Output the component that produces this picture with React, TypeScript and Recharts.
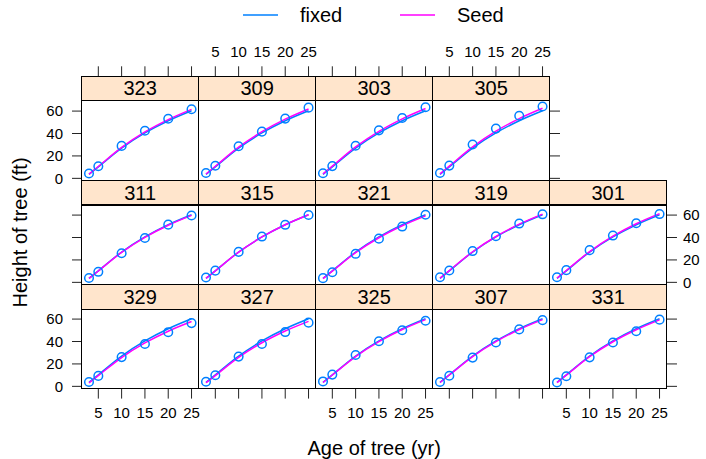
import React from "react";
import { LineChart, Line, XAxis, YAxis } from "recharts";

// ages at which every tree was measured
const ages = [3, 5, 10, 15, 20, 25];
const xTicks = [5, 10, 15, 20, 25];
const yTicks = [0, 20, 40, 60];

// population (fixed effects) curve, same in every panel
const fixedFit = [3.6, 10.3, 27.0, 40.5, 51.4, 60.3];

// observed heights per seed
const height301 = [4.51, 10.89, 28.72, 41.74, 52.7, 60.92];
const height303 = [4.55, 10.92, 29.07, 42.83, 53.88, 63.39];
const height305 = [4.79, 11.37, 30.21, 44.4, 55.82, 64.1];
const height307 = [3.91, 9.48, 25.66, 39.07, 50.78, 59.07];
const height309 = [4.81, 11.2, 28.66, 41.66, 53.31, 63.05];
const height311 = [3.88, 9.4, 25.99, 39.55, 51.46, 59.64];
const height315 = [4.32, 10.43, 27.16, 40.85, 51.33, 60.07];
const height319 = [4.57, 10.57, 27.9, 41.13, 52.43, 60.69];
const height321 = [3.77, 9.03, 25.45, 38.98, 49.76, 60.28];
const height323 = [4.33, 10.79, 28.97, 42.44, 53.17, 61.62];
const height325 = [4.38, 10.48, 27.93, 40.2, 50.06, 58.49];
const height327 = [4.12, 9.92, 26.54, 37.82, 48.43, 56.81];
const height329 = [3.93, 9.34, 26.08, 37.79, 48.31, 56.43];
const height331 = [3.46, 9.05, 25.85, 39.15, 49.12, 59.49];

// seed-level fitted curves
const seedFit301 = [3.8, 10.6, 27.5, 41.2, 52.3, 61.3];
const seedFit303 = [4.0, 10.9, 28.0, 41.9, 53.1, 62.3];
const seedFit305 = [4.0, 10.9, 28.1, 42.1, 53.3, 62.5];
const seedFit307 = [3.45, 10.1, 26.6, 39.9, 50.7, 59.5];
const seedFit309 = [3.9, 10.8, 27.8, 41.6, 52.8, 61.9];
const seedFit311 = [3.5, 10.1, 26.7, 40.1, 50.9, 59.7];
const seedFit315 = [3.6, 10.3, 27.0, 40.5, 51.4, 60.3];
const seedFit319 = [3.7, 10.5, 27.3, 40.9, 51.9, 60.9];
const seedFit321 = [3.4, 10.0, 26.5, 39.8, 50.5, 59.3];
const seedFit323 = [3.8, 10.6, 27.6, 41.4, 52.4, 61.5];
const seedFit325 = [3.45, 10.1, 26.6, 39.9, 50.7, 59.5];
const seedFit327 = [3.2, 9.6, 25.8, 38.9, 49.4, 58.0];
const seedFit329 = [3.15, 9.6, 25.7, 38.7, 49.2, 57.8];
const seedFit331 = [3.4, 10.0, 26.5, 39.8, 50.5, 59.3];

const panels = [
  { name: "323", obs: height323, fit: seedFit323, col: 0, row: 0 },
  { name: "309", obs: height309, fit: seedFit309, col: 1, row: 0 },
  { name: "303", obs: height303, fit: seedFit303, col: 2, row: 0 },
  { name: "305", obs: height305, fit: seedFit305, col: 3, row: 0 },
  { name: "311", obs: height311, fit: seedFit311, col: 0, row: 1 },
  { name: "315", obs: height315, fit: seedFit315, col: 1, row: 1 },
  { name: "321", obs: height321, fit: seedFit321, col: 2, row: 1 },
  { name: "319", obs: height319, fit: seedFit319, col: 3, row: 1 },
  { name: "301", obs: height301, fit: seedFit301, col: 4, row: 1 },
  { name: "329", obs: height329, fit: seedFit329, col: 0, row: 2 },
  { name: "327", obs: height327, fit: seedFit327, col: 1, row: 2 },
  { name: "325", obs: height325, fit: seedFit325, col: 2, row: 2 },
  { name: "307", obs: height307, fit: seedFit307, col: 3, row: 2 },
  { name: "331", obs: height331, fit: seedFit331, col: 4, row: 2 },
];

const BLUE = "#0080ff";
const MAGENTA = "#ff00ff";
const FONT = "'Liberation Sans', Arial, Helvetica, sans-serif";

const PANEL_W = 117;
const PANEL_H = 79.6;
const STRIP_H = 24.7;
const LEFT0 = 81.7;
const TOP0 = 76;
const ROW_PITCH = 104.3;
const PAD = { top: 60, right: 45, bottom: 40, left: 45 };

type PanelProps = { name: string; obs: number[]; fit: number[]; col: number; row: number };

const PanelChart = ({ obs, fit, col, row }: PanelProps) => {
  const x = LEFT0 + col * PANEL_W;
  const y = TOP0 + row * ROW_PITCH + STRIP_H;
  const data = ages.map((a, i) => ({ age: a, obs: obs[i], fixed: fixedFit[i], seed: fit[i] }));

  const topAxis = row === 0;
  const bottomAxis = row === 2;
  const showX = topAxis ? col % 2 === 1 : col % 2 === 0;
  const leftAxis = col === 0;
  const rightAxis = (row === 0 && col === 3) || col === 4;
  const showY = leftAxis ? row !== 1 : row === 1;

  // axes take 1px of room each, so take it back from the margin
  const margin = {
    top: PAD.top - (topAxis ? 1 : 0),
    bottom: PAD.bottom - (bottomAxis ? 1 : 0),
    left: PAD.left - (leftAxis ? 1 : 0),
    right: PAD.right - (rightAxis ? 1 : 0),
  };

  return (
    <div style={{ position: "absolute", left: x - PAD.left, top: y - PAD.top }}>
      <LineChart
        width={PANEL_W + PAD.left + PAD.right}
        height={PANEL_H + PAD.top + PAD.bottom}
        margin={margin}
        data={data}
      >
        <XAxis
          dataKey="age"
          type="number"
          domain={[1.5, 26.6]}
          allowDataOverflow
          ticks={xTicks}
          interval={0}
          orientation={topAxis ? "top" : "bottom"}
          hide={!topAxis && !bottomAxis}
          height={1}
          axisLine={false}
          tickSize={topAxis ? STRIP_H + 10 : 10}
          tickMargin={9}
          tickLine={{ stroke: "#222" }}
          tick={{ fontSize: 15, fill: "#000", fontFamily: FONT }}
          tickFormatter={(v) => (showX ? String(v) : "")}
        />
        <YAxis
          type="number"
          domain={[-2, 69]}
          allowDataOverflow
          ticks={yTicks}
          interval={0}
          orientation={leftAxis ? "left" : "right"}
          hide={!leftAxis && !rightAxis}
          width={1}
          axisLine={false}
          tickSize={10}
          tickMargin={leftAxis ? 9 : 6}
          tickLine={{ stroke: "#222" }}
          tick={{ fontSize: 15, fill: "#000", fontFamily: FONT }}
          tickFormatter={(v) => (showY ? String(v) : "")}
        />
        <Line
          dataKey="obs"
          stroke="none"
          dot={{ r: 4.3, stroke: BLUE, strokeWidth: 1.5, fill: "none" }}
          isAnimationActive={false}
        />
        <Line
          dataKey="fixed"
          type="monotone"
          stroke={BLUE}
          strokeWidth={1.5}
          dot={false}
          isAnimationActive={false}
        />
        <Line
          dataKey="seed"
          type="monotone"
          stroke={MAGENTA}
          strokeWidth={1.5}
          dot={false}
          isAnimationActive={false}
        />
      </LineChart>
    </div>
  );
};

const PanelFrame = ({ name, col, row }: PanelProps) => {
  const x = LEFT0 + col * PANEL_W;
  const stripTop = TOP0 + row * ROW_PITCH;
  return (
    <>
      <div
        style={{
          position: "absolute",
          left: x - 0.5,
          top: stripTop - 0.5,
          width: PANEL_W + 1,
          height: STRIP_H + 1,
          boxSizing: "border-box",
          border: "1px solid #000",
          background: "#ffe5cc",
          display: "flex",
          alignItems: "center",
          justifyContent: "center",
          fontSize: 20,
          lineHeight: "20px",
          color: "#000",
        }}
      >
        {name}
      </div>
      <div
        style={{
          position: "absolute",
          left: x - 0.5,
          top: stripTop + STRIP_H - 0.5,
          width: PANEL_W + 1,
          height: PANEL_H + 1,
          boxSizing: "border-box",
          border: "1px solid #000",
          pointerEvents: "none",
        }}
      />
    </>
  );
};

export default function App() {
  const midY = TOP0 + (3 * ROW_PITCH) / 2;
  const midX = LEFT0 + (5 * PANEL_W) / 2;
  return (
    <div
      style={{
        position: "absolute",
        left: 0,
        top: 0,
        width: 706,
        height: 459,
        background: "#fff",
        fontFamily: FONT,
        overflow: "hidden",
      }}
    >
      {panels.map((p) => (
        <PanelChart key={"c" + p.name} {...p} />
      ))}
      {panels.map((p) => (
        <PanelFrame key={"f" + p.name} {...p} />
      ))}
      <svg width={706} height={459} style={{ position: "absolute", left: 0, top: 0, pointerEvents: "none" }}>
        <line x1={243} y1={15} x2={278} y2={15} stroke={BLUE} strokeWidth={1.3} />
        <text x={300} y={22} fontSize={20} fontFamily={FONT} fill="#000">fixed</text>
        <line x1={400} y1={15} x2={435} y2={15} stroke={MAGENTA} strokeWidth={1.3} />
        <text x={457} y={22} fontSize={20} fontFamily={FONT} fill="#000">Seed</text>
        <text x={midX} y={455} fontSize={20} fontFamily={FONT} fill="#000" textAnchor="middle">
          Age of tree (yr)
        </text>
        <text
          x={26.7}
          y={midY}
          fontSize={20}
          fontFamily={FONT}
          fill="#000"
          textAnchor="middle"
          transform={`rotate(-90 26.7 ${midY})`}
        >
          Height of tree (ft)
        </text>
      </svg>
    </div>
  );
}
